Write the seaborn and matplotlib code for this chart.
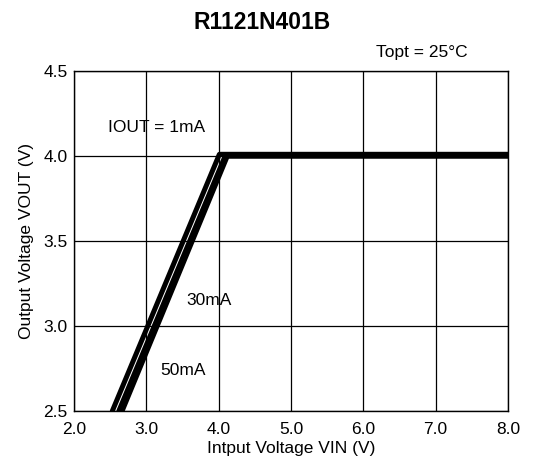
import matplotlib
matplotlib.use("Agg")
import matplotlib.pyplot as plt
import numpy as np
import pandas as pd
import seaborn as sns

# data
currents = ["1mA", "30mA", "50mA"]
vin_1ma = [2.53, 4.01, 8.0]
vout_1ma = [2.5, 4.01, 4.01]
vin_30ma = [2.62, 4.09, 8.0]
vout_30ma = [2.5, 4.0, 4.0]
vin_50ma = [2.665, 4.12, 8.0]
vout_50ma = [2.5, 4.0, 4.0]

x_ticks = [2.0, 3.0, 4.0, 5.0, 6.0, 7.0, 8.0]
y_ticks = [2.5, 3.0, 3.5, 4.0, 4.5]

df = pd.concat([
    pd.DataFrame({"vin": vin_1ma, "vout": vout_1ma, "iout": "1mA"}),
    pd.DataFrame({"vin": vin_30ma, "vout": vout_30ma, "iout": "30mA"}),
    pd.DataFrame({"vin": vin_50ma, "vout": vout_50ma, "iout": "50mA"}),
], ignore_index=True)

sns.set_style("white")
plt.rcParams['font.family'] = ['Liberation Sans', 'DejaVu Sans']
plt.rcParams['text.color'] = 'black'
plt.rcParams['axes.labelcolor'] = 'black'
plt.rcParams['xtick.color'] = 'black'
plt.rcParams['ytick.color'] = 'black'

fig = plt.figure(figsize=(5.35, 4.69), dpi=100)
ax = fig.add_axes([0.1383, 0.1237, 0.8112, 0.7249])

sns.lineplot(data=df, x="vin", y="vout", hue="iout", hue_order=currents,
             palette=["black"] * 3, linewidth=3.6, sort=False,
             estimator=None, legend=False, ax=ax)

ax.set_xlim(2.0, 8.0)
ax.set_ylim(2.5, 4.5)
ax.set_xticks(x_ticks)
ax.set_yticks(y_ticks)
ax.set_xticklabels([f"{v:.1f}" for v in x_ticks], fontsize=12.5)
ax.set_yticklabels([f"{v:.1f}" for v in y_ticks], fontsize=12.5)
ax.tick_params(axis="x", length=0, pad=8)
ax.tick_params(axis="y", length=0, pad=4.5)
ax.grid(True, color="black", linewidth=0.9)
ax.set_axisbelow(True)
for s in ax.spines.values():
    s.set_color("black")
    s.set_linewidth(1.0)

ax.set_xlabel("Intput Voltage VIN (V)", fontsize=12.5, labelpad=3)
ax.set_ylabel("Output Voltage VOUT (V)", fontsize=12.5, labelpad=7)

# curve labels
ax.text(2.47, 4.17, "IOUT = 1mA", fontsize=12.5, va="center", ha="left")
ax.text(3.56, 3.15, "30mA", fontsize=12.5, va="center", ha="left")
ax.text(3.20, 2.74, "50mA", fontsize=12.5, va="center", ha="left")

fig.text(0.49, 0.953, "R1121N401B", fontsize=16.5, fontweight="bold",
         ha="center", va="center")
fig.text(0.875, 0.887, "Topt = 25°C", fontsize=12.5, ha="right", va="center")

fig.savefig("out.png", dpi=100)
